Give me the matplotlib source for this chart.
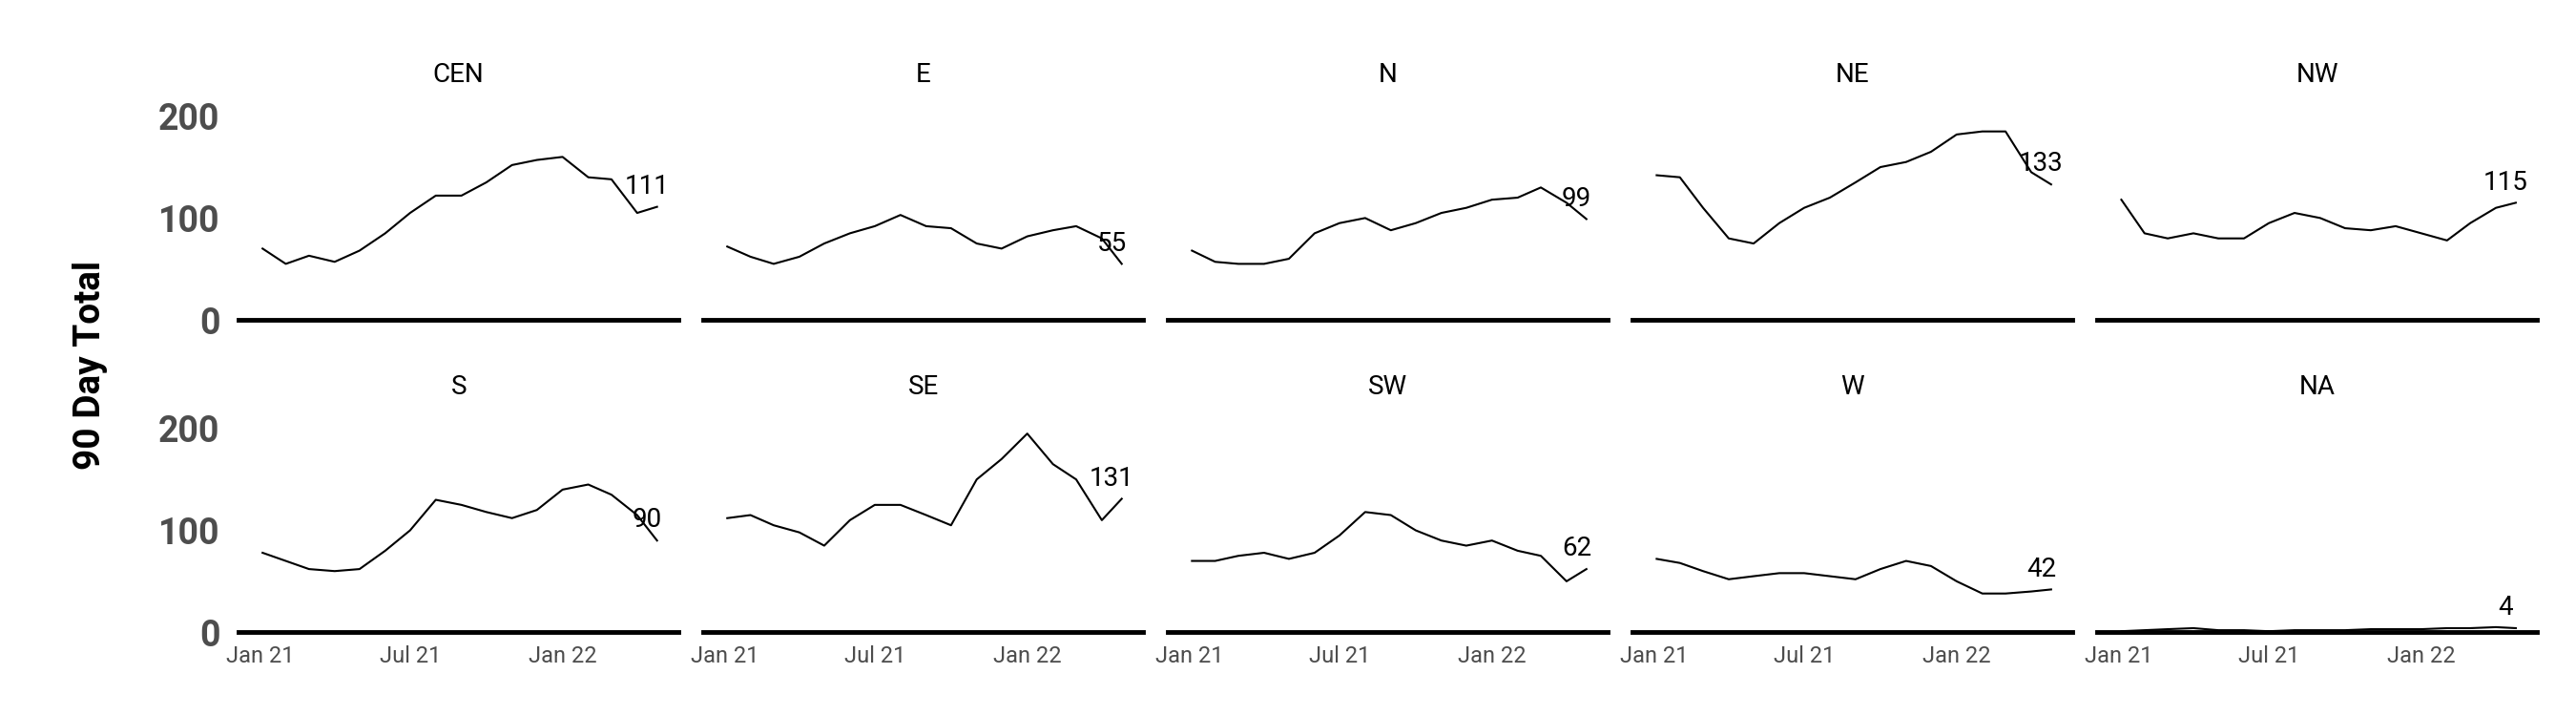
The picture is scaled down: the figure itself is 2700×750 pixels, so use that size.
import matplotlib
matplotlib.use("Agg")
import matplotlib.pyplot as plt
import matplotlib.dates as mdates
import pandas as pd

plt.rcParams["font.family"] = ["Roboto", "DejaVu Sans"]

# monthly readings, Jan 2021 .. Apr 2022 plus last day
DATES = pd.to_datetime(["2021-01-04", "2021-02-01", "2021-03-01", "2021-04-01", "2021-05-01",
                        "2021-06-01", "2021-07-01", "2021-08-01", "2021-09-01", "2021-10-01",
                        "2021-11-01", "2021-12-01", "2022-01-01", "2022-02-01", "2022-03-01",
                        "2022-04-01", "2022-04-25"])

REGIONS = ["CEN", "E", "N", "NE", "NW", "S", "SE", "SW", "W", "NA"]
CEN = [70, 55, 63, 57, 68, 85, 105, 122, 122, 135, 152, 157, 160, 140, 138, 105, 111]
E = [72, 62, 55, 62, 75, 85, 92, 103, 92, 90, 75, 70, 82, 88, 92, 80, 55]
N = [68, 57, 55, 55, 60, 85, 95, 100, 88, 95, 105, 110, 118, 120, 130, 115, 99]
NE = [142, 140, 110, 80, 75, 95, 110, 120, 135, 150, 155, 165, 182, 185, 185, 145, 133]
NW = [118, 85, 80, 85, 80, 80, 95, 105, 100, 90, 88, 92, 85, 78, 95, 110, 115]
S = [78, 70, 62, 60, 62, 80, 100, 130, 125, 118, 112, 120, 140, 145, 135, 115, 90]
SE = [112, 115, 105, 98, 85, 110, 125, 125, 115, 105, 150, 170, 195, 165, 150, 110, 131]
SW = [70, 70, 75, 78, 72, 78, 95, 118, 115, 100, 90, 85, 90, 80, 75, 50, 62]
W = [72, 68, 60, 52, 55, 58, 58, 55, 52, 62, 70, 65, 50, 38, 38, 40, 42]
NA = [1, 2, 3, 4, 2, 2, 1, 2, 2, 2, 3, 3, 3, 4, 4, 5, 4]
SERIES = [CEN, E, N, NE, NW, S, SE, SW, W, NA]

fig, axes = plt.subplots(2, 5, figsize=(27, 7.5), dpi=100, sharex=True, sharey=True)
fig.subplots_adjust(left=0.0926, right=0.985, top=0.852, bottom=0.117, wspace=0.056, hspace=0.46)

for ax, name, vals in zip(axes.flat, REGIONS, SERIES):
    ax.plot(DATES, vals, color="black", linewidth=1.5)
    ax.text(DATES[-1] - pd.Timedelta(days=12), vals[-1] + 20, str(vals[-1]),
            ha="center", va="center", fontsize=20, color="black")
    ax.set_title(name, fontsize=20, pad=18)
    for side in ["top", "right", "left"]:
        ax.spines[side].set_visible(False)
    ax.spines["bottom"].set_linewidth(3.5)
    ax.tick_params(axis="both", length=0)
    ax.tick_params(axis="x", labelsize=17, labelcolor="#4d4d4d", pad=10)
    ax.tick_params(axis="y", labelsize=27, labelcolor="#4d4d4d", pad=14)

ax0 = axes[0, 0]
ax0.set_ylim(0, 210)
ax0.set_yticks([0, 100, 200])
ax0.set_xlim(pd.Timestamp("2020-12-06"), pd.Timestamp("2022-05-21"))
ax0.xaxis.set_major_locator(mdates.MonthLocator(bymonth=[1, 7]))
ax0.xaxis.set_major_formatter(mdates.DateFormatter("%b %y"))
for ax in axes[:, 0]:
    for lbl in ax.get_yticklabels():
        lbl.set_fontweight("bold")

fig.text(0.035, 0.49, "90 Day Total", rotation=90, ha="center", va="center",
         fontsize=28, fontweight="bold")

fig.savefig("out.png", dpi=100)
